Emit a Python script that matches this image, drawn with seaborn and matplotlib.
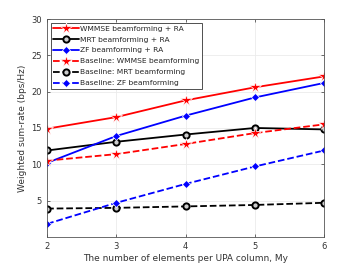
import matplotlib
matplotlib.use("Agg")
import matplotlib.pyplot as plt
import seaborn as sns
import pandas as pd

x_vals = [2, 3, 4, 5, 6]
wmmse_ra = [14.9, 16.5, 18.8, 20.6, 22.1]
mrt_ra = [11.9, 13.1, 14.1, 15.0, 14.8]
zf_ra = [10.2, 13.9, 16.7, 19.2, 21.2]
base_wmmse = [10.5, 11.4, 12.8, 14.3, 15.5]
base_mrt = [3.9, 4.0, 4.2, 4.4, 4.7]
base_zf = [1.8, 4.7, 7.3, 9.7, 11.9]

labels = ["WMMSE beamforming + RA", "MRT beamforming + RA", "ZF beamforming + RA",
          "Baseline: WMMSE beamforming", "Baseline: MRT beamforming", "Baseline: ZF beamforming"]
series = [wmmse_ra, mrt_ra, zf_ra, base_wmmse, base_mrt, base_zf]
colors = ["#ff0000", "#000000", "#0000ff", "#ff0000", "#000000", "#0000ff"]
markers = ["*", "o", "D", "*", "o", "D"]
styles = ["-", "-", "-", "--", "--", "--"]

sns.set_style("whitegrid")
plt.rcParams['font.family'] = ['DejaVu Sans']

fig = plt.figure(figsize=(3.57, 2.68), dpi=100)
ax = fig.add_axes([0.132, 0.116, 0.776, 0.813])

for lab, ys, c, m, ls in zip(labels, series, colors, markers, styles):
    df = pd.DataFrame({"x": x_vals, "y": ys})
    kw = dict(marker=m, color=c, linestyle=ls, linewidth=1.3, label=lab)
    if m == "*":
        kw.update(markersize=8.5, markeredgewidth=0.5)
    elif m == "o":
        kw.update(markersize=4.5, markerfacecolor="#cccccc", markeredgecolor=c, markeredgewidth=1.4)
    else:
        kw.update(markersize=4.5, markeredgewidth=0.5)
    sns.lineplot(data=df, x="x", y="y", ax=ax, **kw)

ax.set_xlim(2, 6)
ax.set_ylim(0, 30)
ax.set_xticks([2, 3, 4, 5, 6])
ax.set_yticks([5, 10, 15, 20, 25, 30])
ax.tick_params(labelsize=6, colors="#333333", length=2, width=0.5, direction="in",
               pad=4, top=True, right=True, bottom=True, left=True)
ax.set_xlabel("The number of elements per UPA column, My", fontsize=6.5, color="#333333", labelpad=2)
ax.set_ylabel("Weighted sum-rate (bps/Hz)", fontsize=6.5, color="#333333", labelpad=3)
ax.grid(True, color="#ebebeb", linewidth=0.6)
for s in ax.spines.values():
    s.set_edgecolor("#555555")
    s.set_linewidth(0.6)

leg = ax.legend(loc="upper left", fontsize=5.4, frameon=True, fancybox=False,
                edgecolor="#333333", framealpha=1, borderpad=0.35, labelspacing=0.62,
                handlelength=3.4, handletextpad=0.2, borderaxespad=0.5)
leg.get_frame().set_linewidth(0.6)

fig.savefig("out.png", dpi=100)
